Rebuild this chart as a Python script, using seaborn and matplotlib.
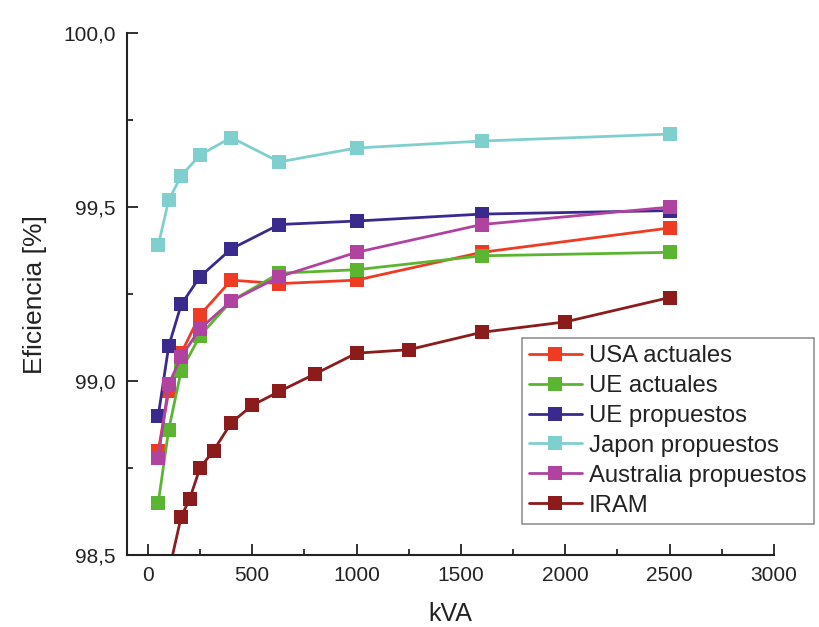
import numpy as np
import pandas as pd
import matplotlib
matplotlib.use('Agg')
import matplotlib.pyplot as plt
from matplotlib.ticker import MultipleLocator, FuncFormatter
import seaborn as sns

# kVA ratings
kva = [50, 100, 160, 250, 400, 630, 1000, 1600, 2500]
kva_iram = [100, 160, 200, 250, 315, 400, 500, 630, 800, 1000, 1250, 1600, 2000, 2500]

# efficiencies [%]
usa_actuales = [98.80, 98.97, 99.08, 99.19, 99.29, 99.28, 99.29, 99.37, 99.44]
ue_actuales = [98.65, 98.86, 99.03, 99.13, 99.23, 99.31, 99.32, 99.36, 99.37]
ue_propuestos = [98.90, 99.10, 99.22, 99.30, 99.38, 99.45, 99.46, 99.48, 99.49]
japon_propuestos = [99.39, 99.52, 99.59, 99.65, 99.70, 99.63, 99.67, 99.69, 99.71]
australia_propuestos = [98.78, 98.99, 99.07, 99.15, 99.23, 99.30, 99.37, 99.45, 99.50]
iram = [98.45, 98.61, 98.66, 98.75, 98.80, 98.88, 98.93, 98.97, 99.02, 99.08, 99.09, 99.14, 99.17, 99.24]

names = ['USA actuales', 'UE actuales', 'UE propuestos', 'Japon propuestos',
         'Australia propuestos', 'IRAM']
colors = ['#ee3b24', '#5cb531', '#3b2a8e', '#80cfcf', '#b0439f', '#8c1c1c']

rows = []
for name, xs, ys in zip(names,
                        [kva, kva, kva, kva, kva, kva_iram],
                        [usa_actuales, ue_actuales, ue_propuestos, japon_propuestos,
                         australia_propuestos, iram]):
    for x, y in zip(xs, ys):
        rows.append({'kVA': x, 'eff': y, 'serie': name})
df = pd.DataFrame(rows)

sns.set_style('ticks')
plt.rcParams['font.family'] = ['Liberation Sans', 'DejaVu Sans']

fig = plt.figure(figsize=(8.19, 6.27), dpi=100)
ax = fig.add_axes([0.155, 0.115, 0.79, 0.832])

sns.lineplot(data=df, x='kVA', y='eff', hue='serie', hue_order=names,
             palette=colors, style='serie', markers=['s'] * 6, dashes=False,
             markersize=10, markeredgewidth=0, linewidth=2.0, sort=True,
             legend=False, ax=ax)

ax.set_xlim(-100, 3000)
ax.set_ylim(98.5, 100.0)
ax.xaxis.set_major_locator(MultipleLocator(500))
ax.xaxis.set_minor_locator(MultipleLocator(250))
ax.yaxis.set_major_locator(MultipleLocator(0.5))
ax.yaxis.set_minor_locator(MultipleLocator(0.25))
ax.yaxis.set_major_formatter(FuncFormatter(lambda v, p: f'{v:.1f}'.replace('.', ',')))
ax.tick_params(which='major', direction='in', length=8, width=1.3, labelsize=15, pad=8,
               colors='#222222')
ax.tick_params(which='minor', direction='in', length=4, width=1.3)
for s in ['top', 'right']:
    ax.spines[s].set_visible(False)
for s in ['left', 'bottom']:
    ax.spines[s].set_linewidth(1.5)
    ax.spines[s].set_color('#222222')

ax.set_xlabel('kVA', fontsize=18, labelpad=12, color='#222222')
ax.set_ylabel('Eficiencia [%]', fontsize=19, labelpad=12, color='#222222')

handles = [plt.Line2D([], [], color=c, marker='s', markersize=10, markeredgewidth=0,
                      linewidth=2.0) for c in colors]
leg = fig.legend(handles, names, loc='upper left', bbox_to_anchor=(522 / 819, 1 - 338 / 627),
                 borderaxespad=0, fontsize=17.2, frameon=True, fancybox=False,
                 edgecolor='#777777', labelspacing=0.33, handlelength=2.2,
                 handletextpad=0.3, borderpad=0.3)
leg.get_frame().set_linewidth(1.2)
for t in leg.get_texts():
    t.set_color('#222222')

fig.savefig('out.png', dpi=100)
